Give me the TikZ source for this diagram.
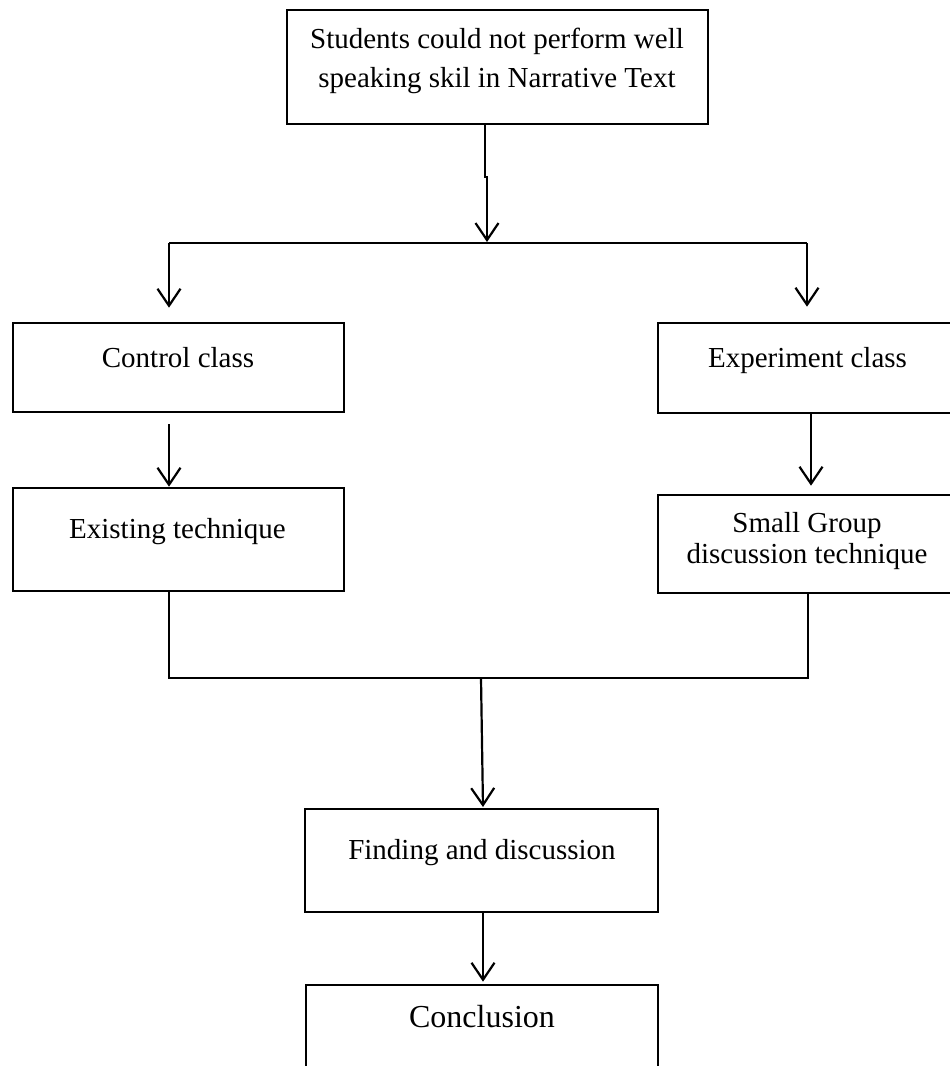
\documentclass[tikz,border=0pt]{standalone}
\usepackage{fontspec}
\setmainfont{Liberation Serif}
\usetikzlibrary{arrows.meta}
\begin{document}
\begin{tikzpicture}[x=1pt,y=-1pt,
  box/.style={draw, line width=2.6pt, rectangle, inner sep=0pt},
  txt/.style={anchor=base, inner sep=0pt, font=\fontsize{29}{38}\selectfont},
  bigtxt/.style={anchor=base, inner sep=0pt, font=\fontsize{32}{38}\selectfont},
  conn/.style={line width=2.2pt},
  arr/.style={conn, -{Straight Barb[length=17pt,width=23pt,line width=2.2pt]}}
]
\useasboundingbox (0,0) rectangle (950,1066);
\clip (0,0) rectangle (950,1066);

% boxes
\node[box, minimum width=421pt, minimum height=114pt] (top) at (497.5,67) {};
\node[box, minimum width=331pt, minimum height=89pt] (ctrl) at (178.5,367.5) {};
\node[box, minimum width=300pt, minimum height=90pt] (exp) at (808,368) {};
\node[box, minimum width=331pt, minimum height=103pt] (exist) at (178.5,539.5) {};
\node[box, minimum width=300pt, minimum height=98pt] (sg) at (808,544) {};
\node[box, minimum width=353pt, minimum height=103pt] (find) at (481.5,860.5) {};
\node[box, minimum width=352pt, minimum height=130pt] (concl) at (482,1050) {};

% texts
\node[txt] (t1a) at (497,48) {Students could not perform well};
\node[txt] (t1b) at (497,87) {speaking skil in Narrative Text};
\node[txt] (t2) at (178,367) {Control class};
\node[txt] (t3) at (807.5,367) {Experiment class};
\node[txt] (t4) at (177.5,538) {Existing technique};
\node[txt] (t5a) at (807,532) {Small Group};
\node[txt] (t5b) at (807,563) {discussion technique};
\node[txt] (t6) at (482,859) {Finding and discussion};
\node[bigtxt] (t7) at (482,1027) {Conclusion};

% junction coordinates
\coordinate (j0) at (485,177);
\coordinate (j0b) at (487,177);
\coordinate (sm) at (487,242);
\coordinate (sl) at (169,243);
\coordinate (sr) at (807,243);
\coordinate (xr) at (811,0);
\coordinate (ml) at (169,678);
\coordinate (mr) at (808,678);
\coordinate (mm) at (481,678);
\coordinate (mt) at (483,807);

% connectors
\draw[arr] (top.south -| j0) -- (j0) -- (j0b) -- (sm);
\draw[conn] (sl) -- (sr);
\draw[arr, shorten >=14pt] (sl) -- (sl |- ctrl.north);
\draw[arr, shorten >=15pt] (sr) -- (sr |- exp.north);
\draw[arr, shorten <=11pt] (ctrl.south -| sl) -- (exist.north -| sl);
\draw[arr, shorten >=8pt] (exp.south -| xr) -- (sg.north -| xr);
\draw[conn] (exist.south -| ml) -- (ml) -- (mr) -- (sg.south -| mr);
\draw[arr] (mm) -- (mt);
\draw[arr, shorten >=2pt] (find.south -| mt) -- (concl.north -| mt);
\end{tikzpicture}
\end{document}
